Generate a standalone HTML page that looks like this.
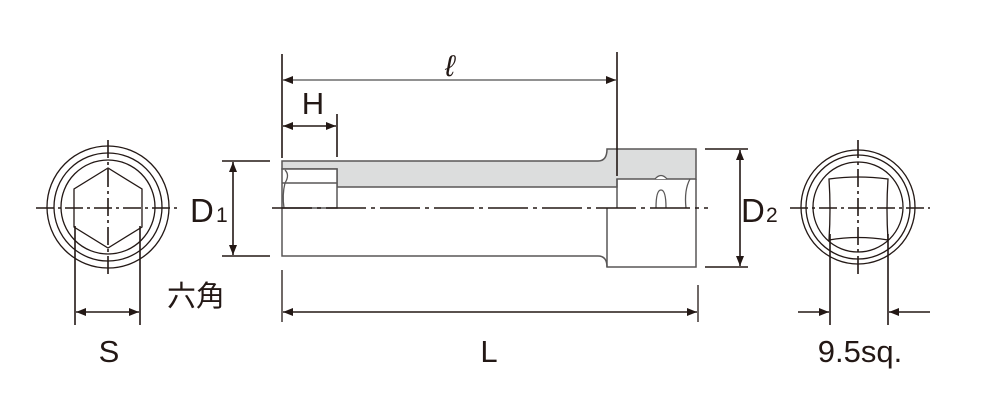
<!DOCTYPE html>
<html><head><meta charset="utf-8"><style>
html,body{margin:0;padding:0;background:#fff;}
svg{display:block;}
text{font-family:"Liberation Sans","Noto Sans CJK JP",sans-serif;fill:#231815;}
</style></head><body>
<svg width="996" height="412" viewBox="0 0 996 412" xmlns="http://www.w3.org/2000/svg">
<defs>
<marker id="a" viewBox="0 0 10 8" refX="10" refY="4" markerWidth="10" markerHeight="8" markerUnits="userSpaceOnUse" orient="auto-start-reverse"><path d="M0,0 L10,4 L0,8 Z" fill="#231815"/></marker>
</defs>
<g stroke="#231815" fill="none">
<circle cx="108" cy="207" r="61" stroke-width="1.3"/>
<circle cx="108" cy="207" r="54" stroke-width="1.3"/>
<circle cx="108" cy="207" r="47" stroke-width="1.3"/>
<polygon points="108,168 74,189 74,227 108,248 142,227 142,189" stroke-width="1.3"/>
<line x1="36" y1="208" x2="180" y2="208" stroke-width="1.6" stroke-dasharray="18,4,3,4"/>
<line x1="108" y1="140" x2="108" y2="275" stroke-width="1.6" stroke-dasharray="18,4,3,4"/>
<line x1="75" y1="226" x2="75" y2="325" stroke-width="1.6"/>
<line x1="140" y1="226" x2="140" y2="325" stroke-width="1.6"/>
<line x1="76" y1="312" x2="139" y2="312" stroke-width="1.6" marker-start="url(#a)" marker-end="url(#a)"/>

<circle cx="858" cy="207" r="57" stroke-width="1.3"/>
<circle cx="858" cy="207" r="52" stroke-width="1.3"/>
<circle cx="858" cy="207" r="45" stroke-width="1.3"/>
<path d="M829,179 Q858,175 888,179 Q886,209 888,240 Q858,235 829,240 Q831,209 829,179 Z" stroke-width="1.3"/>
<line x1="790" y1="208" x2="930" y2="208" stroke-width="1.6" stroke-dasharray="18,4,3,4"/>
<line x1="858" y1="140" x2="858" y2="275" stroke-width="1.6" stroke-dasharray="18,4,3,4"/>
<line x1="830" y1="234" x2="830" y2="325" stroke-width="1.6"/>
<line x1="888" y1="234" x2="888" y2="325" stroke-width="1.6"/>
<line x1="798" y1="312" x2="829" y2="312" stroke-width="1.6" marker-end="url(#a)"/>
<line x1="930" y1="312" x2="889" y2="312" stroke-width="1.6" marker-end="url(#a)"/>

<path d="M282,161 L598,161 Q607,161 607,149 L696,149 L696,179 L617,179 L617,187 L337,187 L337,169 L282,169 Z" fill="#dcdddd" stroke="#595757" stroke-width="1.5"/>
<rect x="282" y="169" width="55" height="39" fill="#fff" stroke="#595757" stroke-width="1.5"/>
<line x1="282" y1="183" x2="337" y2="183" stroke="#595757" stroke-width="1.5"/>
<path d="M285,170 Q290,175 285,183 Q282,195 284,208" stroke="#595757" stroke-width="1.3"/>
<path d="M282,208 L282,256 L598,256 Q607,256 607,267 L696,267 L696,179" stroke="#595757" stroke-width="1.5"/>
<line x1="607" y1="208" x2="607" y2="267" stroke="#595757" stroke-width="1.5"/>
<line x1="617" y1="179" x2="617" y2="208" stroke="#595757" stroke-width="1.5"/>
<path d="M655,179 Q661,172 667,179" stroke="#595757" stroke-width="1.3" fill="#fff"/>
<path d="M656,208 Q656,190 661,190 Q666,190 666,208" stroke="#595757" stroke-width="1.3"/>
<path d="M690,179 Q684,190 686,208" stroke="#595757" stroke-width="1.3"/>
<line x1="272" y1="208" x2="708" y2="208" stroke-width="1.6" stroke-dasharray="40,5,4,5"/>

<line x1="282" y1="54" x2="282" y2="158" stroke-width="1.6"/>
<line x1="617" y1="52" x2="617" y2="176" stroke-width="1.6"/>
<line x1="283" y1="80" x2="616" y2="80" stroke="#6d6d6d" stroke-width="1.6" marker-start="url(#a)" marker-end="url(#a)"/>
<line x1="337" y1="114" x2="337" y2="157" stroke-width="1.6"/>
<line x1="283" y1="126" x2="336" y2="126" stroke-width="1.6" marker-start="url(#a)" marker-end="url(#a)"/>
<line x1="222" y1="161" x2="270" y2="161" stroke-width="1.6"/>
<line x1="222" y1="256" x2="270" y2="256" stroke-width="1.6"/>
<line x1="233" y1="162" x2="233" y2="255" stroke-width="1.6" marker-start="url(#a)" marker-end="url(#a)"/>
<line x1="705" y1="149" x2="748" y2="149" stroke-width="1.6"/>
<line x1="705" y1="267" x2="748" y2="267" stroke-width="1.6"/>
<line x1="740" y1="150" x2="740" y2="266" stroke-width="1.6" marker-start="url(#a)" marker-end="url(#a)"/>
<line x1="282" y1="270" x2="282" y2="322" stroke-width="1.3"/>
<line x1="698" y1="285" x2="698" y2="322" stroke-width="1.3"/>
<line x1="283" y1="312" x2="697" y2="312" stroke-width="1.6" marker-start="url(#a)" marker-end="url(#a)"/>
</g>
<text x="450" y="76" font-size="30" font-style="italic" text-anchor="middle" font-family="Liberation Serif">ℓ</text>
<text x="313" y="114" font-size="31" text-anchor="middle">H</text>
<text x="190" y="222" font-size="33">D</text><text x="216" y="222" font-size="21">1</text>
<text x="741" y="222" font-size="33">D</text><text x="766" y="222" font-size="21">2</text>
<text x="167" y="306" font-size="29">六角</text>
<text x="109" y="362" font-size="31" text-anchor="middle">S</text>
<text x="489" y="362" font-size="31" text-anchor="middle">L</text>
<text x="860" y="362" font-size="31" text-anchor="middle">9.5sq.</text>
</svg>
</body></html>
